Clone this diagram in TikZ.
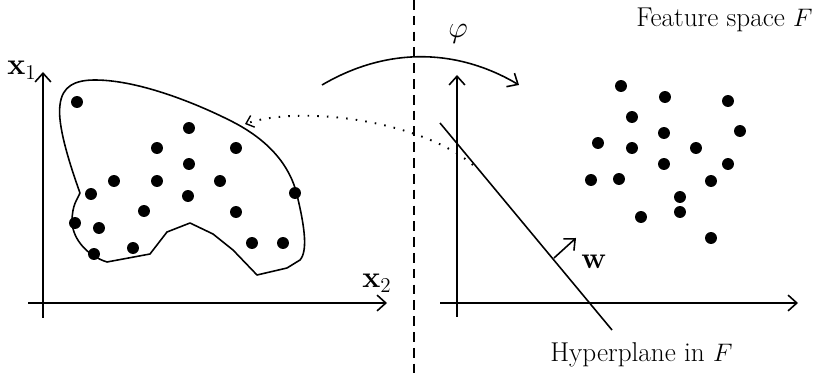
\documentclass[tikz,border=0pt]{standalone}
\usepackage{tikz}
\usetikzlibrary{positioning}
\usetikzlibrary{arrows.meta}
\usepackage{amsmath}
\usepackage{bm}

\tikzset{
    axis/.style={line width=0.9pt, -{Straight Barb[length=5pt,width=9pt,line width=0.9pt]}},
    dot/.style={fill=black},
    lbl/.style={font=\fontsize{15.5}{18}\selectfont, inner sep=0pt},
    mathlbl/.style={font=\fontsize{17}{20}\selectfont, inner sep=0pt}
}

\begin{document}
\begin{tikzpicture}[x=0.02cm, y=-0.02cm]
\useasboundingbox (0,0) rectangle (814,374);

% Divider between input space and feature space
\coordinate (divtop) at (414,0);
\coordinate (divbot) at (414,374);
\draw[line width=0.9pt, dash pattern=on 5.5pt off 3.5pt] (divtop) -- (divbot);

% Input space axes
\coordinate (Lx0) at (28,303);  \coordinate (Lx1) at (387,303);
\coordinate (Ly0) at (43,318);  \coordinate (Ly1) at (43,72);
\draw[axis] (Lx0) -- (Lx1);
\draw[axis] (Ly0) -- (Ly1);

% Region around the data in input space
\draw[line width=0.9pt, line join=round]
    (80,193) .. controls (70,165) and (57,125) .. (60,105)
    .. controls (62,86) and (75,80) .. (95,80)
    .. controls (140,80) and (200,105) .. (233,122)
    .. controls (268,140) and (290,165) .. (297,195)
    .. controls (303,220) and (309,250) .. (300,260)
    -- (287,268) -- (257,275) -- (233,250) -- (213,234) -- (190,223)
    -- (167,232) -- (150,254) -- (107,262)
    .. controls (88,256) and (73,240) .. (72,222)
    .. controls (72,205) and (77,200) .. (80,193) -- cycle;

% Data points in input space
\foreach \px/\py in {77/102, 189/128, 157/148, 236/148, 189/164, 114/181,
    157/181, 220/181, 91/194, 188/196, 295/193, 144/211, 236/212, 75/223,
    99/228, 133/248, 94/254, 252/243, 283/243} {
    \fill[dot] (\px,\py) circle (3.4pt);
}

% Feature space axes
\coordinate (Rx0) at (440,303); \coordinate (Rx1) at (798,303);
\coordinate (Ry0) at (457,317); \coordinate (Ry1) at (457,75);
\draw[axis] (Rx0) -- (Rx1);
\draw[axis] (Ry0) -- (Ry1);

% Hyperplane and normal vector
\coordinate (H0) at (440,123);
\coordinate (H1) at (612,330);
\draw[line width=0.9pt] (H0) -- (H1);
\coordinate (wbase) at (554,258);
\coordinate (wtip) at (576,238);
\draw[axis] (wbase) -- (wtip);

% Data points in feature space
\foreach \px/\py in {621/86, 665/97, 728/101, 632/117, 740/131, 664/133,
    598/143, 632/148, 696/148, 664/164, 728/164, 591/180, 619/179, 711/181,
    680/197, 680/212, 641/217, 711/238} {
    \fill[dot] (\px,\py) circle (3.4pt);
}

% Mapping arrows
\coordinate (phistart) at (322,85);
\coordinate (phiend) at (519,85);
\draw[axis] (phistart) .. controls (390,45) and (460,50) .. (phiend);
\coordinate (backstart) at (473,165);
\coordinate (backend) at (245,124);
\draw[line width=1.1pt, dash pattern=on 0.9pt off 4.6pt,
    -{Straight Barb[length=4pt,width=7pt,line width=0.8pt]}]
    (backstart) .. controls (420,120) and (300,105) .. (backend);

% Labels
\node[mathlbl] (x1lbl) at (22,70) {$\mathbf{x}_1$};
\node[mathlbl] (x2lbl) at (377,283) {$\mathbf{x}_2$};
\node[mathlbl] (philbl) at (458,34) {$\varphi$};
\node[mathlbl] (wlbl) at (594,262) {$\mathbf{w}$};
\node[lbl, anchor=east] (fslbl) at (813,20) {Feature space $F$};
\node[lbl, anchor=west] (hplbl) at (550,355) {Hyperplane in $F$};
\end{tikzpicture}
\end{document}
